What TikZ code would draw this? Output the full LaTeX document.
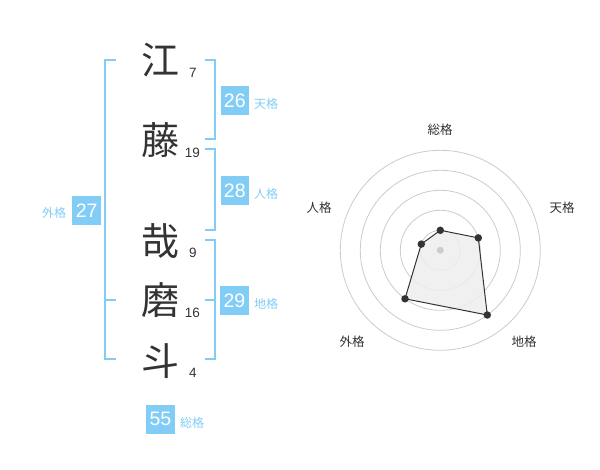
\documentclass[tikz,border=0pt]{standalone}
\usepackage{fontspec}
\setmainfont{Liberation Sans}
\newfontfamily\jp{Noto Sans CJK JP}
\definecolor{kblue}{HTML}{82CDF6}
\definecolor{kdark}{HTML}{333333}
\definecolor{kgrid}{HTML}{CCCCCC}
\definecolor{kfill}{HTML}{EEEEEE}
\begin{document}
\begin{tikzpicture}[x=1pt,y=-1pt,
  kanji/.style={font=\jp\fontsize{38}{38}\selectfont, text=kdark, inner sep=0pt},
  strokes/.style={font=\fontsize{13.5}{13.5}\selectfont, text=kdark, inner sep=0pt},
  valbox/.style={fill=kblue, text=white, minimum size=28.5pt, inner sep=0pt, font=\fontsize{19.5}{19.5}\selectfont},
  kaku/.style={font=\jp\fontsize{12}{12}\selectfont, text=kblue, inner sep=0pt},
  bracket/.style={draw=kblue, line width=2pt},
  grid/.style={draw=kgrid, line width=0.8pt},
  radlabel/.style={font=\jp\fontsize{12.5}{12.5}\selectfont, text=kdark, inner sep=0pt},
  dot/.style={circle, fill=kdark, inner sep=0pt, minimum size=7.5pt}]
\useasboundingbox (0,0) rectangle (600,470);
\fill[white] (0,0) rectangle (600,470);
% kanji
\node[kanji] (k1) at (160,60) {江};
\node[kanji] (k2) at (160,140) {藤};
\node[kanji] (k3) at (160,241) {哉};
\node[kanji] (k4) at (160,300) {磨};
\node[kanji] (k5) at (160,361) {斗};
% stroke counts
\node[strokes] (s1) at (193,73) {7};
\node[strokes] (s2) at (192.5,153) {19};
\node[strokes] (s3) at (193,253) {9};
\node[strokes] (s4) at (192.5,313) {16};
\node[strokes] (s5) at (193,373) {4};
% brackets
\draw[bracket] (116,60) -- (105,60) -- (105,359.5) -- (116,359.5);
\draw[bracket] (105,300) -- (116,300);
\draw[bracket] (205,60) -- (215,60) -- (215,139.5) -- (205,139.5);
\draw[bracket] (205,149.5) -- (215,149.5) -- (215,230) -- (205,230);
\draw[bracket] (205,240) -- (215,240) -- (215,359.5) -- (205,359.5);
\draw[bracket] (205,300) -- (215,300);
% value boxes
\node[valbox] (b26) at (234.8,100.3) {26};
\node[kaku] (l26) at (266,104) {天格};
\node[valbox] (b28) at (234.8,190.3) {28};
\node[kaku] (l28) at (266,194) {人格};
\node[valbox] (b29) at (234.5,300.3) {29};
\node[kaku] (l29) at (266,304) {地格};
\node[valbox] (b27) at (86.7,210.3) {27};
\node[kaku] (l27) at (54,213) {外格};
\node[valbox] (b55) at (160.5,419.3) {55};
\node[kaku] (l55) at (192,423) {総格};
% radar chart
\coordinate (c) at (440.3,250.3);
\foreach \r in {20,40,60,80,100} \draw[grid] (c) circle[radius=\r pt];
\coordinate (pSo) at (440.3,230.3);
\coordinate (pTen) at (478.3,237.9);
\coordinate (pChi) at (487.3,315.0);
\coordinate (pGai) at (405.0,298.8);
\coordinate (pJin) at (421.3,244.1);
\fill[kfill, opacity=0.85] (pSo) -- (pTen) -- (pChi) -- (pGai) -- (pJin) -- cycle;
\draw[kdark, line width=1pt, line join=round] (pSo) -- (pTen) -- (pChi) -- (pGai) -- (pJin) -- cycle;
\fill[kgrid] (c) circle[radius=3.5pt];
\foreach \p in {pSo,pTen,pChi,pGai,pJin} \node[dot] at (\p) {};
\node[radlabel] (rSo) at (440,130) {総格};
\node[radlabel] (rTen) at (562,208) {天格};
\node[radlabel] (rChi) at (524,342) {地格};
\node[radlabel] (rGai) at (352,342) {外格};
\node[radlabel] (rJin) at (319,208) {人格};
\end{tikzpicture}
\end{document}
